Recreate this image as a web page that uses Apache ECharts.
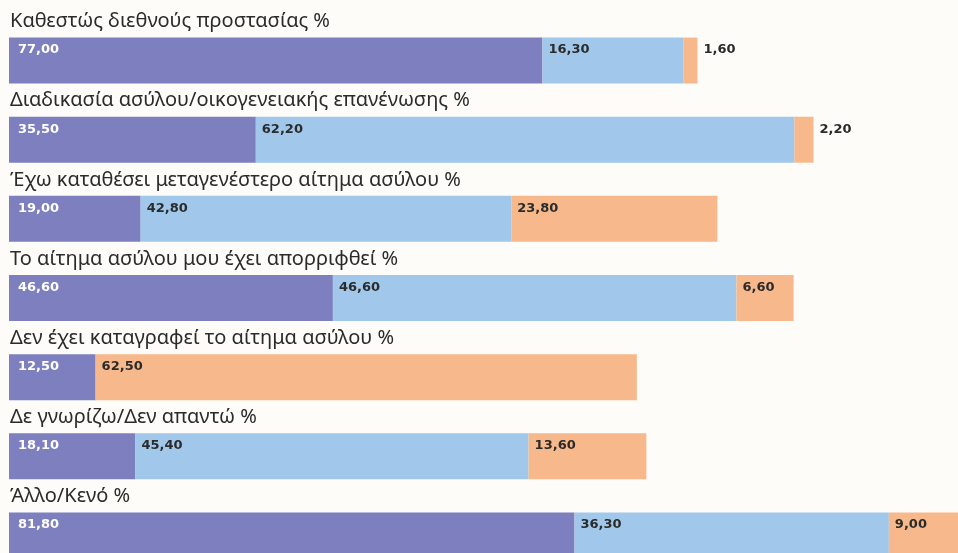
<!DOCTYPE html>
<html>
<head>
<meta charset="utf-8">
<script src="https://cdn.jsdelivr.net/npm/echarts@6/dist/echarts.min.js"></script>
<style>
  html, body { margin: 0; padding: 0; background: #fdfcf8; }
  #chartmain { width: 958px; height: 553px; }
</style>
</head>
<body>
<div id="chartmain"></div>
<script>
var categories = [
  'Καθεστώς διεθνούς προστασίας %',
  'Διαδικασία ασύλου/οικογενειακής επανένωσης %',
  'Έχω καταθέσει μεταγενέστερο αίτημα ασύλου %',
  'Το αίτημα ασύλου μου έχει απορριφθεί %',
  'Δεν έχει καταγραφεί το αίτημα ασύλου %',
  'Δε γνωρίζω/Δεν απαντώ %',
  'Άλλο/Κενό %'
];
// purple: printed value and drawn length differ in the source picture
var purpleValues = [77.0, 35.5, 19.0, 46.6, 12.5, 18.1, 81.8];
var purpleLengths = [61.6, 28.5, 15.2, 37.4, 10.0, 14.6, 65.3];
var blueValues = [16.3, 62.2, 42.8, 46.6, null, 45.4, 36.3];
var orangeValues = [1.6, 2.2, 23.8, 6.6, 62.5, 13.6, 9.0];

function fmt(v) {
  return v.toFixed(2).replace('.', ',');
}

var labelFont = { fontFamily: 'DejaVu Sans', fontWeight: 'bold', fontSize: 13 };

var chart = echarts.init(document.getElementById('chartmain'));
chart.setOption({
  backgroundColor: '#fdfcf8',
  animation: false,
  grid: { left: 9, top: 21, width: 952.6, height: 554, outerBoundsMode: 'none', containLabel: false },
  xAxis: {
    type: 'value', min: 0, max: 110,
    show: false
  },
  yAxis: {
    type: 'category',
    data: categories,
    inverse: true,
    axisLine: { show: false },
    axisTick: { show: false },
    splitLine: { show: false },
    axisLabel: {
      inside: true,
      interval: 0,
      hideOverlap: false,
      margin: 1,
      align: 'left',
      verticalAlign: 'bottom',
      lineHeight: 78,
      fontFamily: 'Noto Sans',
      fontSize: 20,
      color: '#2b2b2b'
    },
    z: 10
  },
  series: [
    {
      name: 'purple',
      type: 'bar',
      stack: 'all',
      barWidth: 46,
      itemStyle: { color: '#7d7fbe' },
      data: purpleLengths,
      label: Object.assign({
        show: true,
        position: [9, 6],
        color: '#ffffff',
        formatter: function (p) { return fmt(purpleValues[p.dataIndex]); }
      }, labelFont)
    },
    {
      name: 'blue',
      type: 'bar',
      stack: 'all',
      barWidth: 46,
      itemStyle: { color: '#a1c8eb' },
      data: blueValues,
      label: Object.assign({
        show: true,
        position: [6, 6],
        color: '#2b2b2b',
        formatter: function (p) { return fmt(p.value); }
      }, labelFont)
    },
    {
      name: 'orange',
      type: 'bar',
      stack: 'all',
      barWidth: 46,
      itemStyle: { color: '#f7b98b' },
      data: orangeValues.map(function (v) {
        if (v < 5) {
          return { value: v, label: { position: ['100%', 6], offset: [6, 0] } };
        }
        return v;
      }),
      label: Object.assign({
        show: true,
        position: [6, 6],
        color: '#2b2b2b',
        formatter: function (p) { return fmt(p.value); }
      }, labelFont)
    }
  ]
});
</script>
</body>
</html>
